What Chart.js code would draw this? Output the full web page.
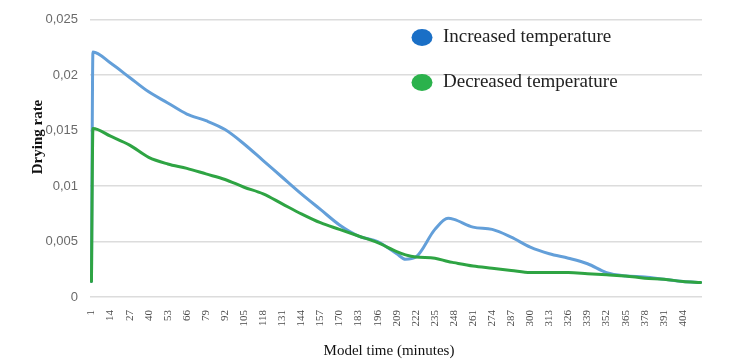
<!DOCTYPE html>
<html>
<head>
<meta charset="utf-8">
<script src="https://cdn.jsdelivr.net/npm/chart.js@4.4.1/dist/chart.umd.min.js"></script>
<style>
  html, body { margin: 0; padding: 0; background: #fff; }
  #wrap { width: 730px; height: 363px; }
</style>
</head>
<body>
<div id="wrap"><canvas id="rateChart" width="730" height="363"></canvas></div>
<script>
// model time (minutes) at which the curves were read
const times = [1, 2, 14, 27, 40, 53, 66, 79, 92, 105, 118, 131, 144, 157, 170, 183, 196, 209, 215, 222,
  235, 244, 248, 261, 274, 287, 300, 313, 326, 339, 352, 365, 378, 391, 404, 416];
const increasedRate = [0.0014, 0.0221, 0.0211, 0.0198, 0.0185, 0.0175, 0.0165, 0.0159, 0.0151, 0.0138,
  0.0123, 0.0108, 0.0093, 0.0079, 0.0065, 0.0055, 0.0050, 0.0039, 0.0034, 0.0036,
  0.0061, 0.0071, 0.0070, 0.0063, 0.0061, 0.0054, 0.0045, 0.0039, 0.0035, 0.0030,
  0.0022, 0.0019, 0.0018, 0.0016, 0.0014, 0.0013];
const decreasedRate = [0.0014, 0.0152, 0.0145, 0.0137, 0.0126, 0.0120, 0.0116, 0.0111, 0.0106, 0.0099,
  0.0093, 0.0084, 0.0075, 0.0067, 0.0061, 0.0055, 0.0049, 0.0041, 0.0038, 0.0036,
  0.0035, 0.0032, 0.0031, 0.0028, 0.0026, 0.0024, 0.0022, 0.0022, 0.0022, 0.0021,
  0.0020, 0.0019, 0.0017, 0.0016, 0.0014, 0.0013];
const xTicks = [1, 14, 27, 40, 53, 66, 79, 92, 105, 118, 131, 144, 157, 170, 183, 196, 209, 222,
  235, 248, 261, 274, 287, 300, 313, 326, 339, 352, 365, 378, 391, 404];
const yTicks = [0, 0.005, 0.01, 0.015, 0.02, 0.025];
const seriesNames = ['Increased temperature', 'Decreased temperature'];

const BLUE_LINE = '#639fd9', GREEN_LINE = '#2ea443';
const BLUE_KEY = '#1a6fc6', GREEN_KEY = '#2bb24c';

function pts(vals) { return times.map((t, i) => ({ x: t, y: vals[i] })); }

const extras = {
  id: 'extras',
  afterDraw(chart) {
    const c = chart.ctx;
    c.save();
    // legend
    const keys = [[BLUE_KEY, 37.5], [GREEN_KEY, 82.5]];
    keys.forEach(([col, y], i) => {
      c.fillStyle = col;
      c.beginPath();
      c.ellipse(422, y, 10.5, 8.5, 0, 0, Math.PI * 2);
      c.fill();
      c.fillStyle = '#222';
      c.font = '19px "Liberation Serif", "DejaVu Serif", serif';
      c.textBaseline = 'middle';
      c.textAlign = 'left';
      c.fillText(seriesNames[i], 443, y - 0.5);
    });
    // axis titles
    c.fillStyle = '#111';
    c.font = '15px "Liberation Serif", serif';
    c.textAlign = 'center';
    c.textBaseline = 'middle';
    c.fillText('Model time (minutes)', 389, 351);
    c.translate(38, 137);
    c.rotate(-Math.PI / 2);
    c.font = 'bold 15px "Liberation Serif", serif';
    c.fillText('Drying rate', 0, 0);
    c.restore();
  }
};

new Chart(document.getElementById('rateChart'), {
  type: 'line',
  data: {
    datasets: [
      { label: seriesNames[0], data: pts(increasedRate), borderColor: BLUE_LINE, borderWidth: 3, order: 1 },
      { label: seriesNames[1], data: pts(decreasedRate), borderColor: GREEN_LINE, borderWidth: 3, order: 0 }
    ]
  },
  options: {
    responsive: false,
    animation: false,
    events: [],
    layout: { padding: { top: 17, right: 28, bottom: 3, left: 0 } },
    elements: {
      point: { radius: 0 },
      line: { cubicInterpolationMode: 'monotone', fill: false, borderCapStyle: 'round', borderJoinStyle: 'round' }
    },
    plugins: { legend: { display: false }, tooltip: { enabled: false } },
    scales: {
      x: {
        type: 'linear', min: 0, max: 417,
        grid: { display: false },
        border: { display: false },
        afterBuildTicks: s => { s.ticks = xTicks.map(v => ({ value: v })); },
        afterFit: s => { s.height = 63; },
        ticks: {
          autoSkip: false, minRotation: 90, maxRotation: 90, padding: 5,
          color: '#4a4a4a', font: { family: '"Liberation Serif", serif', size: 11 },
          callback: v => String(v)
        }
      },
      y: {
        min: 0, max: 0.025,
        afterBuildTicks: s => { s.ticks = yTicks.map(v => ({ value: v })); },
        afterFit: s => { s.width = 90; },
        grid: { color: '#dcdcdc', lineWidth: 1.5, drawTicks: false },
        border: { display: false },
        ticks: {
          padding: 12, color: '#6a6a6a',
          font: { family: '"Liberation Sans", Arial, sans-serif', size: 13 },
          callback: v => String(v).replace('.', ',')
        }
      }
    }
  },
  plugins: [extras]
});
</script>
</body>
</html>
